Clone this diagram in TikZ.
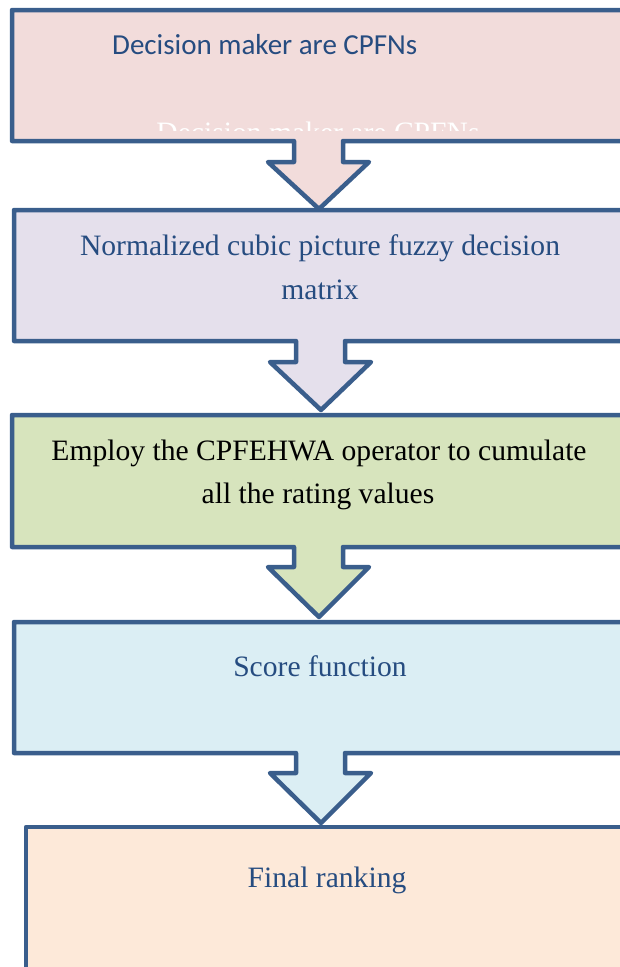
\documentclass[tikz,border=0pt]{standalone}
\usepackage{fontspec}
\setmainfont{Liberation Serif}
\newfontfamily\calib{Carlito}
\definecolor{edgeblue}{HTML}{3A5E8C}
\definecolor{txtblue}{HTML}{264C80}
\definecolor{fillA}{HTML}{F2DCDB}
\definecolor{fillB}{HTML}{E5E0EC}
\definecolor{fillC}{HTML}{D7E4BD}
\definecolor{fillD}{HTML}{DBEEF4}
\definecolor{fillE}{HTML}{FDE9D9}
\tikzset{
  shapebox/.style={draw=edgeblue, line width=4.5pt, line join=round},
  serifText/.style={font=\fontsize{29.6}{34}\selectfont, anchor=base, inner sep=0pt},
  sansText/.style={font=\calib\fontsize{29}{34}\selectfont, anchor=base west, inner sep=0pt}
}
\begin{document}
\begin{tikzpicture}[x=1pt,y=-1pt]
\useasboundingbox (0,0) rectangle (619,967);
% box 1
\draw[shapebox, fill=fillA] (660,10) -- (12,10) -- (12,141) -- (294,141) -- (294,162) -- (268,162) -- (319,209) -- (369,162) -- (343,162) -- (343,141) -- (660,141);
\begin{scope}
  \clip (14,12) rectangle (660,130.5);
  \node[serifText, text=white] (ghost) at (318,142.5) {Decision maker are CPFNs};
\end{scope}
\node[sansText, text=txtblue] (t1) at (112,54) {Decision maker are CPFNs};
% box 2
\draw[shapebox, fill=fillB] (660,210) -- (14,210) -- (14,341) -- (296,341) -- (296,362) -- (270,362) -- (321,410) -- (371,362) -- (345,362) -- (345,341) -- (660,341);
\node[serifText, text=txtblue] (t2a) at (320,255) {Normalized cubic picture fuzzy decision};
\node[serifText, text=txtblue] (t2b) at (320,299) {matrix};
% box 3
\draw[shapebox, fill=fillC] (660,415) -- (12,415) -- (12,547) -- (294,547) -- (294,567) -- (268,567) -- (319,617) -- (369,567) -- (343,567) -- (343,547) -- (660,547);
\node[serifText, text=black] (t3a) at (319,460) {Employ the CPFEHWA operator to cumulate};
\node[serifText, text=black] (t3b) at (318,503) {all the rating values};
% box 4
\draw[shapebox, fill=fillD] (660,622) -- (14,622) -- (14,753) -- (296,753) -- (296,773) -- (270,773) -- (321,823) -- (371,773) -- (345,773) -- (345,753) -- (660,753);
\node[serifText, text=txtblue] (t4) at (320,676) {Score function};
% box 5
\draw[shapebox, fill=fillE] (660,827) -- (26,827) -- (26,1000) -- (660,1000);
\node[serifText, text=txtblue] (t5) at (327,887) {Final ranking};
\end{tikzpicture}
\end{document}
